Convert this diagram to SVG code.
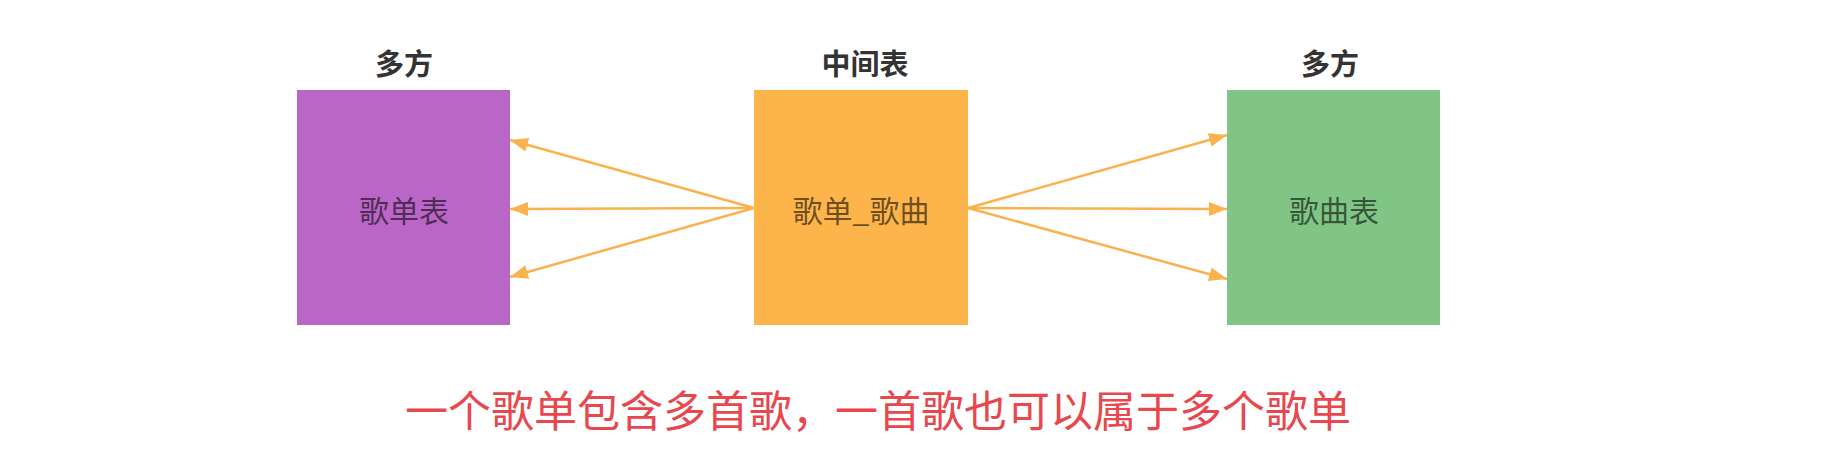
<svg xmlns="http://www.w3.org/2000/svg" width="1839" height="476" viewBox="0 0 1839 476">
<style>
.lbl{font-family:"Noto Sans CJK SC","Noto Sans",sans-serif;font-size:29px;font-weight:bold;fill:#333;text-anchor:middle}
.txt{font-family:"Noto Sans CJK SC","Noto Sans",sans-serif;font-size:30px;fill:#000;fill-opacity:0.58;text-anchor:middle}
.cap{font-family:"Noto Sans CJK SC","Noto Sans",sans-serif;font-size:43px;fill:#e8474d;text-anchor:middle}
.ln{stroke:#f9b24e;stroke-width:2.5;fill:none;marker-end:url(#ah)}
</style>
<defs>
<marker id="ah" markerUnits="userSpaceOnUse" markerWidth="20" markerHeight="16" refX="18" refY="8" orient="auto">
<path d="M0,1 L18,8 L0,15 z" fill="#f9b24e"/>
</marker>
</defs>
<rect width="1839" height="476" fill="#ffffff"/>
<g id="playlist">
<text class="lbl" x="404" y="75">多方</text>
<rect x="297" y="90" width="213" height="235" fill="#b966c6"/>
<text class="txt" x="404" y="222">歌单表</text>
</g>
<g id="middle">
<text class="lbl" x="865" y="75">中间表</text>
<rect x="754" y="90" width="214" height="235" fill="#fdb54b"/>
<text class="txt" x="861" y="222">歌单_歌曲</text>
</g>
<g id="songs">
<text class="lbl" x="1330" y="75">多方</text>
<rect x="1227" y="90" width="213" height="235" fill="#80c585"/>
<text class="txt" x="1334" y="222">歌曲表</text>
</g>
<g id="connectors">
<line class="ln" x1="754" y1="208" x2="510" y2="140"/>
<line class="ln" x1="754" y1="208" x2="510" y2="209"/>
<line class="ln" x1="754" y1="208" x2="510" y2="277"/>
<line class="ln" x1="968" y1="208" x2="1227" y2="135"/>
<line class="ln" x1="968" y1="208" x2="1227" y2="209"/>
<line class="ln" x1="968" y1="208" x2="1227" y2="279"/>
</g>
<text class="cap" x="878" y="427">一个歌单包含多首歌，一首歌也可以属于多个歌单</text>
</svg>
